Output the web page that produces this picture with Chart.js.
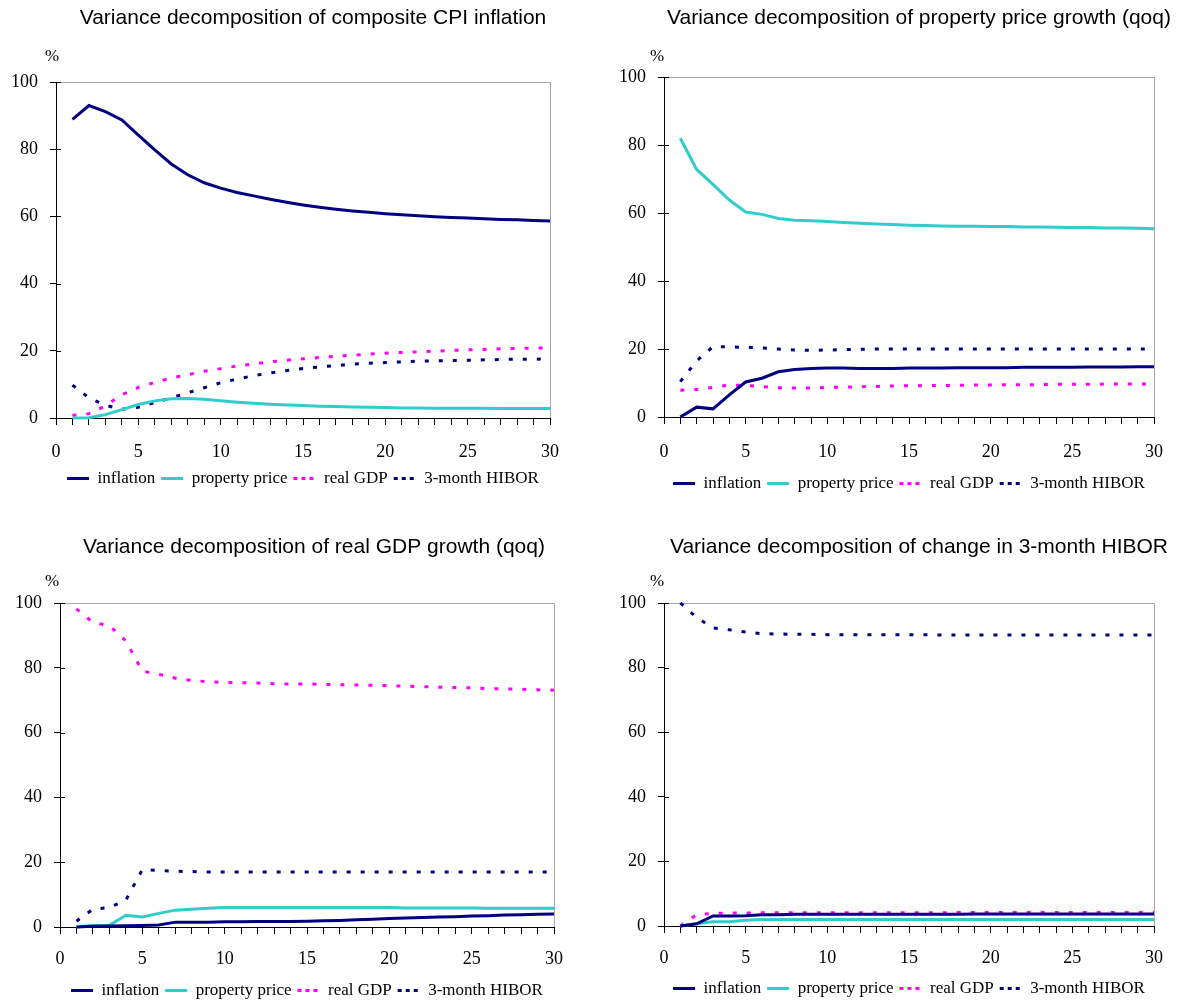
<!DOCTYPE html>
<html>
<head>
<meta charset="utf-8">
<script src="https://cdn.jsdelivr.net/npm/chart.js@4.4.1/dist/chart.umd.min.js"></script>
<style>
  html, body { margin: 0; padding: 0; background: #fff; overflow: hidden; width: 1186px; height: 1003px; }
  canvas { position: absolute; }
</style>
</head>
<body>
<canvas id="cpiChart" width="593" height="497" style="left:0;top:0"></canvas>
<canvas id="propChart" width="593" height="502" style="left:593px;top:0"></canvas>
<canvas id="gdpChart" width="593" height="509" style="left:0;top:500px"></canvas>
<canvas id="hiborChart" width="593" height="507" style="left:593px;top:500px"></canvas>
<script>
// horizons (quarters) and axis ticks
const horizons = [1, 2, 3, 4, 5, 6, 7, 8, 9, 10, 11, 12, 13, 14, 15, 16, 17, 18, 19, 20, 21, 22, 23, 24, 25, 26, 27, 28, 29, 30];
const xTickLabels = [0, 5, 10, 15, 20, 25, 30];
const yTickLabels = [0, 20, 40, 60, 80, 100];
const seriesNames = ['inflation', 'property price', 'real GDP', '3-month HIBOR'];

// composite CPI inflation
const cpiInflation = [88.9, 93.0, 91.2, 88.7, 84.2, 79.8, 75.6, 72.4, 70.0, 68.4, 67.1, 66.1, 65.1, 64.2, 63.4, 62.7, 62.1, 61.6, 61.2, 60.8, 60.5, 60.2, 59.9, 59.7, 59.5, 59.3, 59.1, 59.0, 58.8, 58.6];
const cpiProperty = [0.0, 0.1, 1.0, 2.5, 4.0, 5.1, 5.7, 5.8, 5.6, 5.1, 4.7, 4.4, 4.1, 3.9, 3.7, 3.5, 3.4, 3.3, 3.2, 3.1, 3.0, 3.0, 2.9, 2.9, 2.9, 2.9, 2.8, 2.8, 2.8, 2.8];
const cpiGdp = [0.8, 1.3, 3.6, 6.9, 9.1, 10.6, 11.9, 12.9, 13.9, 14.7, 15.5, 16.1, 16.7, 17.2, 17.6, 18.0, 18.4, 18.7, 19.0, 19.3, 19.5, 19.7, 19.9, 20.1, 20.3, 20.4, 20.6, 20.7, 20.8, 20.9];
const cpiHibor = [9.8, 6.0, 3.8, 2.6, 3.2, 4.6, 6.0, 7.5, 9.0, 10.5, 11.6, 12.6, 13.4, 14.1, 14.7, 15.2, 15.6, 16.0, 16.3, 16.5, 16.7, 16.9, 17.0, 17.1, 17.2, 17.3, 17.4, 17.5, 17.5, 17.6];

// property price growth
const ppInflation = [0.0, 2.9, 2.4, 6.5, 10.3, 11.4, 13.3, 14.0, 14.3, 14.4, 14.4, 14.3, 14.3, 14.3, 14.4, 14.4, 14.4, 14.5, 14.5, 14.5, 14.5, 14.6, 14.6, 14.6, 14.6, 14.7, 14.7, 14.7, 14.8, 14.8];
const ppProperty = [82.0, 72.8, 68.4, 63.8, 60.3, 59.6, 58.4, 57.9, 57.7, 57.5, 57.2, 57.0, 56.8, 56.6, 56.4, 56.3, 56.2, 56.1, 56.1, 56.0, 56.0, 55.9, 55.9, 55.8, 55.7, 55.7, 55.6, 55.6, 55.5, 55.4];
const ppGdp = [7.9, 8.1, 8.7, 9.4, 9.3, 8.9, 8.6, 8.5, 8.5, 8.7, 8.8, 8.9, 9.0, 9.1, 9.2, 9.2, 9.3, 9.3, 9.4, 9.4, 9.5, 9.5, 9.5, 9.6, 9.6, 9.6, 9.7, 9.7, 9.7, 9.7];
const ppHibor = [10.4, 16.5, 20.7, 20.6, 20.5, 20.3, 20.0, 19.7, 19.6, 19.7, 19.8, 19.9, 20.0, 20.0, 20.0, 20.0, 20.0, 20.0, 20.0, 20.0, 20.0, 20.0, 20.0, 20.0, 20.0, 20.0, 20.0, 20.0, 20.0, 20.0];

// real GDP growth
const gdpInflation = [0.0, 0.2, 0.3, 0.4, 0.5, 0.6, 1.5, 1.5, 1.5, 1.6, 1.6, 1.7, 1.7, 1.7, 1.8, 1.9, 2.0, 2.2, 2.4, 2.6, 2.8, 2.9, 3.1, 3.2, 3.4, 3.5, 3.7, 3.8, 3.9, 4.0];
const gdpProperty = [0.0, 0.5, 0.5, 3.6, 3.1, 4.2, 5.2, 5.5, 5.8, 6.0, 6.0, 6.0, 6.0, 6.0, 6.0, 6.0, 6.0, 6.0, 6.0, 6.0, 5.9, 5.9, 5.9, 5.9, 5.9, 5.8, 5.8, 5.8, 5.8, 5.8];
const gdpGdp = [98.2, 94.0, 93.0, 88.3, 79.0, 78.0, 76.8, 76.1, 75.7, 75.5, 75.4, 75.3, 75.1, 75.0, 75.0, 74.9, 74.8, 74.7, 74.6, 74.5, 74.3, 74.2, 74.0, 73.9, 73.8, 73.6, 73.5, 73.4, 73.2, 73.1];
const gdpHibor = [1.8, 5.5, 6.0, 8.3, 17.7, 17.5, 17.2, 17.1, 17.0, 17.0, 17.0, 17.0, 17.0, 17.0, 17.0, 17.0, 17.0, 17.0, 17.0, 17.0, 17.0, 17.0, 17.0, 17.0, 17.0, 17.0, 17.0, 17.0, 17.0, 17.0];

// change in 3-month HIBOR
const hbInflation = [0.0, 0.7, 3.1, 3.1, 3.2, 3.5, 3.5, 3.6, 3.6, 3.6, 3.6, 3.6, 3.6, 3.6, 3.6, 3.6, 3.6, 3.6, 3.7, 3.7, 3.7, 3.7, 3.7, 3.7, 3.7, 3.7, 3.7, 3.7, 3.7, 3.7];
const hbProperty = [0.0, 0.7, 1.3, 1.3, 1.8, 2.0, 2.0, 2.0, 2.0, 2.0, 2.0, 2.0, 2.0, 2.0, 2.0, 2.0, 2.0, 2.0, 2.0, 2.0, 2.0, 2.0, 2.0, 2.0, 2.0, 2.0, 2.0, 2.0, 2.0, 2.0];
const hbGdp = [0.0, 3.5, 3.9, 4.0, 4.0, 4.1, 4.1, 4.1, 4.1, 4.1, 4.1, 4.1, 4.1, 4.1, 4.1, 4.1, 4.1, 4.2, 4.2, 4.2, 4.2, 4.2, 4.2, 4.2, 4.2, 4.2, 4.2, 4.2, 4.2, 4.2];
const hbHibor = [100.0, 95.5, 92.3, 91.7, 91.0, 90.5, 90.4, 90.3, 90.3, 90.2, 90.2, 90.2, 90.2, 90.2, 90.2, 90.2, 90.1, 90.1, 90.1, 90.1, 90.1, 90.1, 90.1, 90.1, 90.1, 90.1, 90.1, 90.1, 90.1, 90.1];

const NAVY = '#000080', TURQ = '#33CCCC', MAGENTA = '#FF00FF';
const serif = 'Liberation Serif';

function makeDataset(label, values, color, dashed) {
  return {
    label: label,
    data: horizons.map((h, i) => ({ x: h, y: values[i] })),
    borderColor: color,
    backgroundColor: color,
    borderWidth: 3,
    borderDash: dashed ? [4, 10] : [],
    pointRadius: 0,
    tension: 0,
    fill: false,
    clip: 6
  };
}

// title, "%" unit and inner half of the y ticks
const decorPlugin = {
  id: 'decor',
  afterDraw(chart, args, opts) {
    const ctx = chart.ctx;
    const area = chart.chartArea;
    const y = chart.scales.y;
    ctx.save();
    ctx.strokeStyle = '#000';
    ctx.lineWidth = 1;
    yTickLabels.forEach(v => {
      const py = Math.round(y.getPixelForValue(v)) + 0.5;
      ctx.beginPath();
      ctx.moveTo(area.left, py);
      ctx.lineTo(area.left + 5, py);
      ctx.stroke();
    });
    ctx.fillStyle = '#000';
    ctx.textAlign = 'center';
    ctx.textBaseline = 'middle';
    ctx.font = '21px "Liberation Sans"';
    ctx.fillText(opts.title, opts.titleX, opts.titleY);
    ctx.font = '17px "' + serif + '"';
    ctx.fillText('%', opts.pctX, opts.pctY);
    ctx.restore();
  }
};

function makeChart(id, title, values, layout) {
  const colors = [NAVY, TURQ, MAGENTA, NAVY];
  const dashed = [false, false, true, true];
  new Chart(document.getElementById(id), {
    type: 'line',
    data: {
      datasets: seriesNames.map((n, i) => makeDataset(n, values[i], colors[i], dashed[i]))
    },
    plugins: [decorPlugin],
    options: {
      responsive: false,
      animation: false,
      events: [],
      layout: {
        autoPadding: false,
        padding: { left: layout.left, right: layout.right, top: layout.top, bottom: 0 }
      },
      scales: {
        x: {
          type: 'linear',
          min: 0,
          max: 30,
          afterFit: s => { s.height = layout.xh; },
          ticks: {
            stepSize: 1,
            maxTicksLimit: 40,
            autoSkip: false,
            maxRotation: 0,
            padding: layout.xpad,
            color: '#000',
            font: { family: serif, size: 18 },
            callback: v => xTickLabels.includes(v) ? String(v) : ''
          },
          grid: {
            color: c => (c.tick && c.tick.value === 30) ? '#a8a8a8' : 'rgba(0,0,0,0)',
            tickColor: '#000',
            tickLength: 7,
            lineWidth: 1
          },
          border: { display: true, color: '#000', width: 1 }
        },
        y: {
          min: 0,
          max: 100,
          afterFit: s => { s.width = 50; },
          ticks: {
            stepSize: 20,
            padding: 12,
            color: '#000',
            font: { family: serif, size: 18 }
          },
          grid: {
            color: c => (c.tick && c.tick.value === 100) ? '#a8a8a8' : 'rgba(0,0,0,0)',
            tickColor: '#000',
            tickLength: 6,
            lineWidth: 1
          },
          border: { display: true, color: '#000', width: 1 }
        }
      },
      plugins: {
        title: { display: false },
        tooltip: { enabled: false },
        legend: {
          position: 'bottom',
          fullSize: false,
          labels: {
            usePointStyle: true,
            pointStyle: 'line',
            pointStyleWidth: 22,
            padding: 6,
            color: '#000',
            font: { family: serif, size: 17 },
            generateLabels(chart) {
              const items = Chart.defaults.plugins.legend.labels.generateLabels(chart);
              items.forEach(it => {
                const ds = chart.data.datasets[it.datasetIndex];
                it.lineDash = (ds.borderDash && ds.borderDash.length) ? [4, 4] : [];
                it.lineWidth = 3;
                it.strokeStyle = ds.borderColor;
              });
              return items;
            }
          }
        },
        decor: {
          title: title,
          titleX: layout.titleX,
          titleY: layout.titleY,
          pctX: layout.pctX,
          pctY: layout.pctY
        }
      }
    }
  });
}

makeChart('cpiChart', 'Variance decomposition of composite CPI inflation',
  [cpiInflation, cpiProperty, cpiGdp, cpiHibor],
  { left: 6, right: 43, top: 82, xh: 46, xpad: 16, titleX: 313, titleY: 18, pctX: 52, pctY: 57 });

makeChart('propChart', 'Variance decomposition of property price growth (qoq)',
  [ppInflation, ppProperty, ppGdp, ppHibor],
  { left: 21, right: 32, top: 77, xh: 52, xpad: 17, titleX: 326, titleY: 18, pctX: 64, pctY: 57 });

makeChart('gdpChart', 'Variance decomposition of real GDP growth (qoq)',
  [gdpInflation, gdpProperty, gdpGdp, gdpHibor],
  { left: 10, right: 39, top: 103, xh: 49, xpad: 14, titleX: 314, titleY: 47, pctX: 52, pctY: 82 });

makeChart('hiborChart', 'Variance decomposition of change in 3-month HIBOR',
  [hbInflation, hbProperty, hbGdp, hbHibor],
  { left: 21, right: 32, top: 103, xh: 48, xpad: 14, titleX: 326, titleY: 47, pctX: 64, pctY: 82 });
</script>
</body>
</html>
